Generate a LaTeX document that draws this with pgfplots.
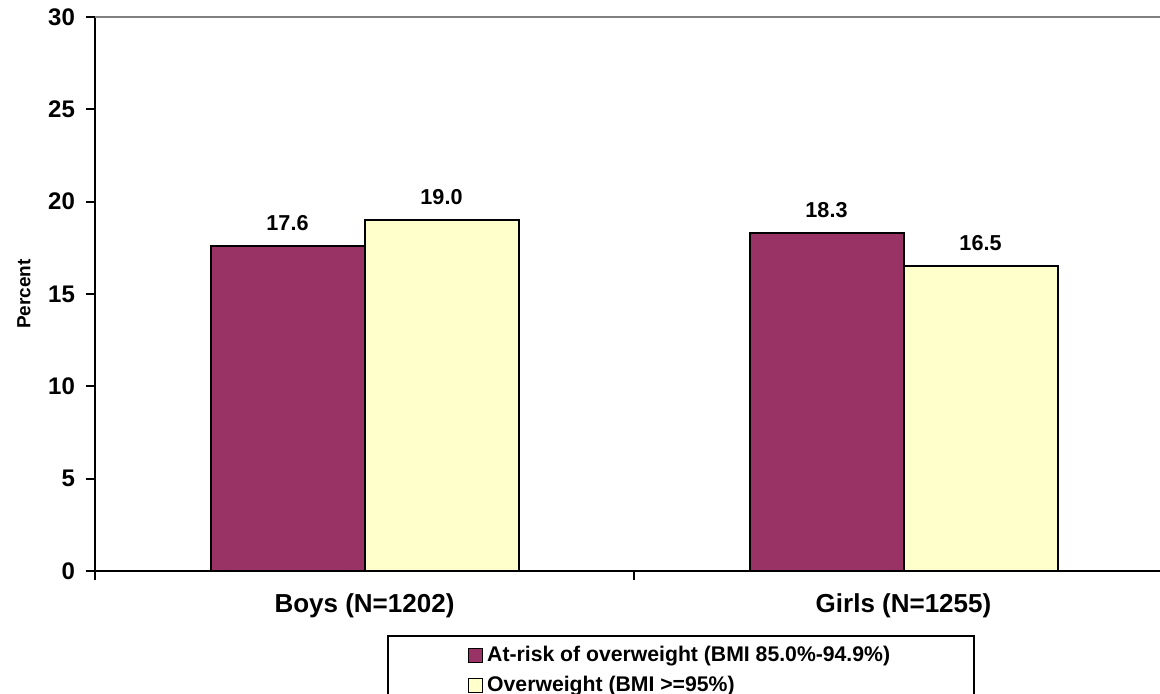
\documentclass[border=0pt]{standalone}
\usepackage{pgfplots}
\pgfplotsset{compat=1.18}
\usepackage{fontspec}
\setmainfont{Liberation Sans}
\definecolor{maroonbar}{HTML}{993366}
\definecolor{yellowbar}{HTML}{FFFFCC}
\begin{document}
\begin{tikzpicture}
\useasboundingbox (-47.5pt,-61.5pt) rectangle (532.5pt,285.5pt);
\begin{axis}[
  at={(0,0)}, anchor=south west,
  scale only axis,
  width=539pt, height=277pt,
  xmin=-0.5, xmax=1.5,
  ymin=0, ymax=30,
  ytick={0,5,...,30},
  xtick={-0.5,0.5,1.5},
  xticklabels={},
  extra x ticks={0,1},
  extra x tick labels={Boys (N=1202),Girls (N=1255)},
  extra x tick style={major tick length=0pt, tick label style={font=\bfseries\fontsize{13}{15}\selectfont, yshift=-8pt}},
  axis x line*=bottom,
  axis y line*=left,
  axis line style={line width=1pt, black},
  tick align=outside,
  major tick length=4.5pt,
  tick style={line width=1pt, black},
  /pgf/number format/assume math mode=true,
  yticklabel style={font=\bfseries\fontsize{12}{14}\selectfont, xshift=-2pt},
  ylabel={Percent},
  ylabel style={font=\bfseries\fontsize{9.5}{11}\selectfont, at={(axis description cs:-0.066,0.5)}, anchor=center},
  ybar=0pt,
  bar width=77pt,
  nodes near coords={\pgfmathprintnumber[fixed,fixed zerofill,precision=1]{\pgfplotspointmeta}},
  every node near coord/.append style={font=\bfseries\fontsize{10.8}{13}\selectfont, yshift=4pt, black},
  legend style={at={(axis description cs:0,0)}, anchor=north west, xshift=146pt, yshift=-32pt,
    draw=black, line width=1pt, inner xsep=40pt, inner ysep=3pt, row sep=2pt,
    font=\bfseries\fontsize{10.6}{12.5}\selectfont, cells={anchor=west}},
  legend cell align=left,
  legend image code/.code={\draw[#1, draw=black, line width=0.6pt] (0pt,-3.5pt) rectangle (7pt,3.5pt);},
  clip=false,
]
\addplot[fill=maroonbar, draw=black, line width=1pt] coordinates {(0,17.6) (1,18.3)};
\addplot[fill=yellowbar, draw=black, line width=1pt] coordinates {(0,19.0) (1,16.5)};
\draw[gray, line width=1.3pt] (rel axis cs:0,1) -- (rel axis cs:1,1);
\legend{At-risk of overweight (BMI 85.0\%-94.9\%), Overweight (BMI >=95\%)}
\end{axis}
\end{tikzpicture}
\end{document}
